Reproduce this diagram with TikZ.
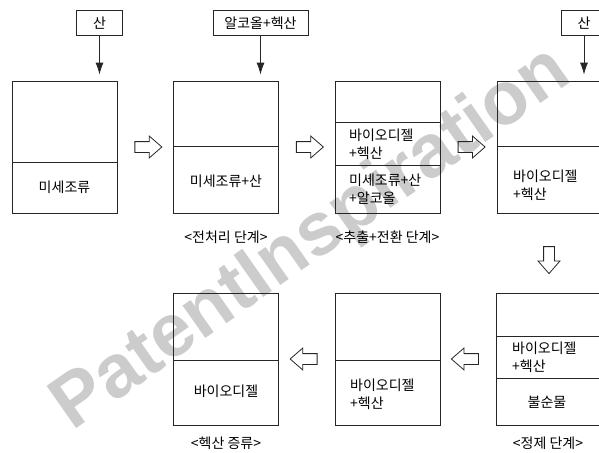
\documentclass[tikz,border=0pt]{standalone}
\usepackage{fontspec}
\setmainfont{Noto Sans CJK KR}
\newfontfamily\wmfont{Liberation Sans}
\usetikzlibrary{shapes.arrows,arrows.meta,calc}

\tikzstyle{vessel}=[draw=black!85,line width=0.8pt,minimum width=105pt,minimum height=132pt,inner sep=0pt]
\tikzstyle{feed}=[draw=black!85,line width=0.8pt,minimum width=46pt,minimum height=25pt,inner sep=0pt,font=\fontsize{14}{16}\selectfont]
\tikzstyle{layer}=[draw=black!85,line width=0.8pt]
\tikzstyle{content}=[inner sep=0pt,align=left,font=\fontsize{14}{18}\selectfont]
\tikzstyle{stageLabel}=[inner sep=0pt,font=\fontsize{14}{16}\selectfont]
\tikzstyle{hollowArrow}=[single arrow,draw=black!85,line width=0.8pt,inner sep=5pt,minimum height=27pt,single arrow head extend=5.5pt,single arrow tip angle=82]
\tikzstyle{feedArrow}=[-{Latex[length=12pt,width=8pt]},draw=black!85,line width=0.8pt,shorten >=6pt]
\tikzstyle{watermark}=[inner sep=0pt,text=black!20,font=\wmfont\bfseries\fontsize{75}{75}\selectfont]

\begin{document}
\begin{tikzpicture}[x=1pt,y=-1pt]
        \useasboundingbox (0,0) rectangle (599,452);
        % watermark
        \node[watermark,rotate=35,anchor=base west] (wm) at (72,432) {PatentInspiration};

        % upper row
        \node[vessel] (v1) at (64.5,147)  {};
        \node[vessel] (v2) at (226,147)   {};
        \node[vessel] (v3) at (387.5,147) {};
        \node[vessel] (v4) at (549.5,147) {};
        % lower row
        \node[vessel] (v5) at (548.5,359) {};
        \node[vessel] (v6) at (387.5,359) {};
        \node[vessel] (v7) at (226,359)   {};

        \draw[layer] (v1.west |- 0,162) -- (v1.east |- 0,162);
        \draw[layer] (v2.west |- 0,146) -- (v2.east |- 0,146);
        \draw[layer] (v3.west |- 0,122) -- (v3.east |- 0,122);
        \draw[layer] (v3.west |- 0,165) -- (v3.east |- 0,165);
        \draw[layer] (v4.west |- 0,146) -- (v4.east |- 0,146);
        \draw[layer] (v5.west |- 0,336) -- (v5.east |- 0,336);
        \draw[layer] (v5.west |- 0,378) -- (v5.east |- 0,378);
        \draw[layer] (v6.west |- 0,360) -- (v6.east |- 0,360);
        \draw[layer] (v7.west |- 0,360) -- (v7.east |- 0,360);

        \node[content] (t1) at (64.5,187) {미세조류};
        \node[content] (t2) at (226,181) {미세조류+산};
        \node[content,anchor=west] (t3a) at (349,144)   {바이오디젤\\+헥산};
        \node[content,anchor=west] (t3b) at (349,189.5) {미세조류+산\\+알코올};
        \node[content,anchor=west] (t4)  at (513,185)   {바이오디젤\\+헥산};
        \node[content,anchor=west] (t5a) at (512,357)   {바이오디젤\\+헥산};
        \node[content] (t5b) at (547,402) {불순물};
        \node[content,anchor=west] (t6)  at (350,394)   {바이오디젤\\+헥산};
        \node[content] (t7) at (226,391) {바이오디젤};

        % feeds
        \node[feed] (f1) at (99.5,23) {산};
        \node[feed,minimum width=95pt] (f2) at (260.5,23) {알코올+헥산};
        \node[feed] (f4) at (584,23) {산};

        \draw[feedArrow] (f1.south) -- (f1.south |- v1.north);
        \draw[feedArrow] (f2.south) -- (f2.south |- v2.north);
        \draw[feedArrow] (f4.south) -- (f4.south |- v4.north);

        % hollow arrows
        \node[hollowArrow] (h12) at ($(v1.east)!0.5!(v2.west)$) {};
        \node[hollowArrow] (h23) at ($(v2.east)!0.5!(v3.west)$) {};
        \node[hollowArrow] (h34) at ($(v3.east)!0.5!(v4.west)$) {};
        \node[hollowArrow,shape border rotate=270] (h45) at (549,257) {};
        \node[hollowArrow,shape border rotate=180] (h56) at ($(v6.east)!0.5!(v5.west)$) {};
        \node[hollowArrow,shape border rotate=180] (h67) at ($(v7.east)!0.5!(v6.west)$) {};

        % stage labels
        \node[stageLabel] (s2) at (226,237)   {<전처리 단계>};
        \node[stageLabel] (s3) at (387.5,237) {<추출+전환 단계>};
        \node[stageLabel] (s7) at (226,443)   {<헥산 증류>};
        \node[stageLabel] (s5) at (548,443)   {<정제 단계>};
    \end{tikzpicture}
\end{document}
